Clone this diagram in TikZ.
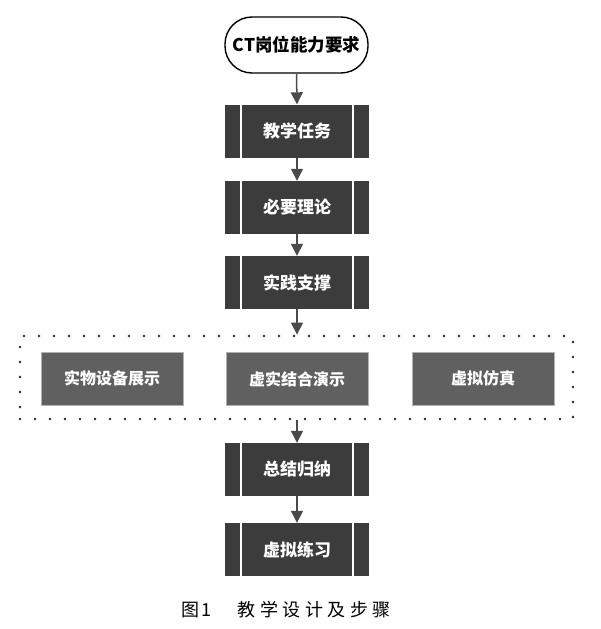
\documentclass[tikz,border=0pt]{standalone}
\usepackage{fontspec}
\setmainfont{Noto Sans CJK SC}
\newfontfamily\capfont[LetterSpace=25]{Noto Sans CJK SC}
\usetikzlibrary{arrows.meta}
\definecolor{boxdark}{HTML}{3C3C3C}
\definecolor{boxmid}{HTML}{606060}
\definecolor{arrowgray}{HTML}{4A4A4A}
\tikzset{
  terminal/.style={draw=black, line width=1.4pt, fill=white, rounded corners=27pt,
    minimum width=143pt, minimum height=56pt, inner sep=0pt,
    font=\fontsize{17.5}{20}\selectfont\bfseries},
  procbox/.style={fill=boxdark, minimum width=144pt, minimum height=53pt, inner sep=0pt,
    text=white, font=\fontsize{17}{20}\selectfont\bfseries,
    path picture={
      \draw[white, line width=1.3pt]
        ([xshift=16pt]path picture bounding box.north west) -- ([xshift=16pt]path picture bounding box.south west)
        ([xshift=-16pt]path picture bounding box.north east) -- ([xshift=-16pt]path picture bounding box.south east);
    }},
  subbox/.style={fill=boxmid, draw=gray!60, line width=0.5pt, minimum width=142pt, minimum height=53pt,
    inner sep=0pt, text=white, font=\fontsize{16}{19}\selectfont\bfseries},
  groupbox/.style={draw=black!85, line width=2.8pt, dash pattern=on 0pt off 15pt, line cap=round,
    minimum width=553pt, minimum height=83pt, inner sep=0pt},
  flow/.style={draw=arrowgray, line width=1.5pt, -{Triangle[length=12pt,width=12pt]}},
}
\begin{document}
\begin{tikzpicture}[x=1pt,y=-1pt]
\useasboundingbox[fill=white] (0,0) rectangle (600,629);
\node[terminal] (term) at (296.5,45) {CT岗位能力要求};
\node[procbox] (b1) at (297,131) {教学任务};
\node[procbox] (b2) at (297,207.5) {必要理论};
\node[procbox] (b3) at (297,282.5) {实践支撑};
\node[groupbox] (grp) at (296.5,377.5) {};
\node[subbox] (s1) at (112,378.5) {实物设备展示};
\node[subbox] (s2) at (297,379) {虚实结合演示};
\node[subbox] (s3) at (483,378.5) {虚拟仿真};
\node[procbox] (b4) at (297,469.5) {总结归纳};
\node[procbox] (b5) at (297,549.5) {虚拟练习};
\node (cap) at (286,610) {\fontsize{18}{21}\selectfont 图\,1\hspace{26pt}{\capfont 教学设计及步骤}};
\draw[flow] (term.south) -- (b1.north);
\draw[flow] (b1.south) -- (b2.north);
\draw[flow] (b2.south) -- (b3.north);
\draw[flow] (b3.south) -- (b3.south |- grp.north);
\draw[flow] (b4.north |- grp.south) -- (b4.north);
\draw[flow] (b4.south) -- (b5.north);
\end{tikzpicture}
\end{document}
